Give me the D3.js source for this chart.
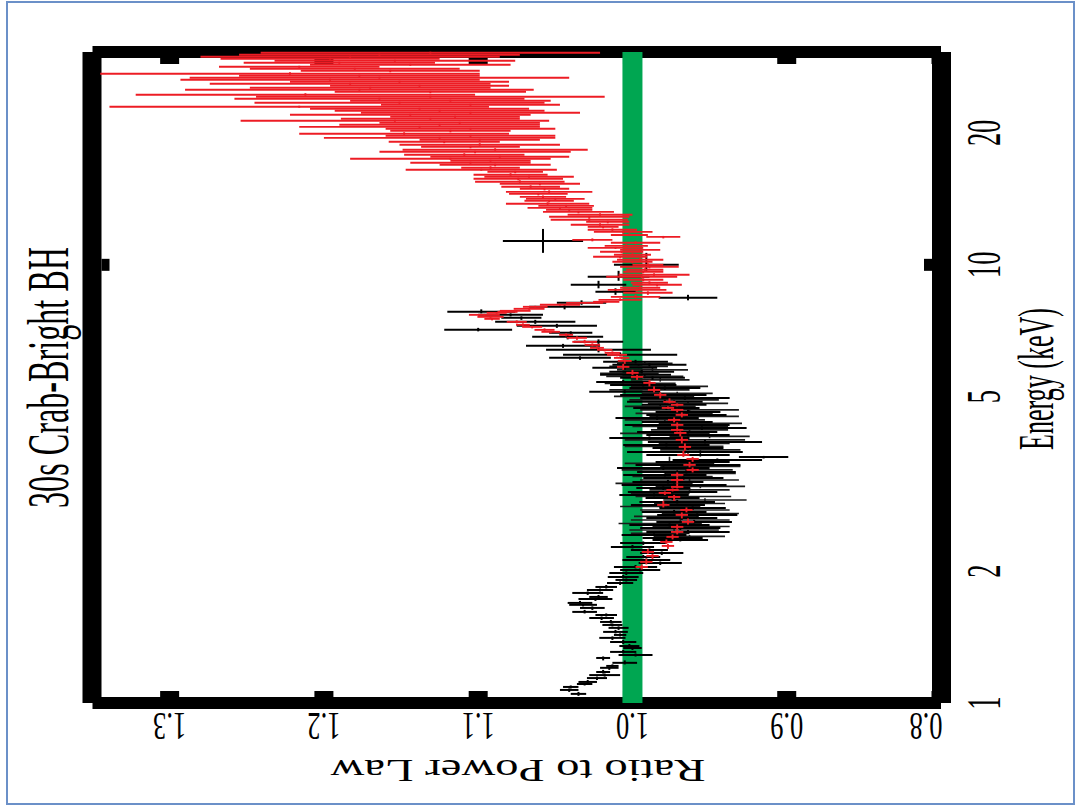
<!DOCTYPE html>
<html>
<head>
<meta charset="utf-8">
<script src="https://cdn.jsdelivr.net/npm/d3@7"></script>
<style>
  body { margin: 0; background: #fff; }
  text { font-family: "Liberation Serif", "Times New Roman", serif; fill: #000; }
</style>
</head>
<body>
<svg id="chart" width="1080" height="807"></svg>
<script>
// ---------------- data ----------------
const energyLabels = [1, 2, 5, 10, 20];
const energyMajor = [10];
const ratioTicks = [0.8, 0.9, 1.0, 1.1, 1.2, 1.3];

// black points: energy (keV), ratio, ratio error
const blackE = [1.049,1.071,1.088,1.105,1.117,1.140,1.158,1.177,1.203,1.215,1.235,1.267,1.287,1.308,1.335,1.349,1.378,1.408,1.430,1.453,1.484,1.507,1.531,1.563,1.588,1.614,1.648,1.675,1.692,1.728,1.746,1.783,1.811,1.840,1.879,1.909,1.939,1.981,2.012,2.044,2.087,2.121,2.155,2.200,2.235,2.271,2.319,
  2.356,2.381,2.419,2.457,2.509,2.549,2.590,2.645,2.687,2.730,2.787,2.832,2.877,2.938,2.985,3.032,3.096,3.146,3.196,3.263,3.315,3.368,3.440,3.495,3.550,3.587,3.644,3.683,3.741,3.821,3.882,3.944,4.027,4.091,4.156,4.244,4.312,4.381,4.474,4.545,4.617,4.715,4.791,4.867,4.970,5.049,5.130,5.238,5.321,5.406,5.521,5.609,5.698,5.819,5.912,6.006,
  6.133,6.231,6.396,6.532,6.671,6.849,6.995,7.105,7.256,7.411,7.568,7.689,7.811,8.020,8.190,8.408,8.678,9.003,9.390,10.00,11.34];
const blackR = [1.035,1.041,1.040,1.031,1.029,1.023,1.018,1.019,1.015,1.013,1.005,1.019,0.998,1.006,1.000,1.002,1.006,1.013,1.008,1.011,1.009,1.013,1.014,1.020,1.017,1.031,1.026,1.032,1.034,1.024,1.022,1.029,1.021,1.017,1.008,1.004,1.006,1.004,0.995,0.998,0.982,0.991,0.993,0.981,0.989,1.000,0.993,
  0.969,0.974,0.986,0.964,0.969,0.976,0.960,0.968,0.958,0.973,0.961,0.977,0.971,0.974,0.986,0.974,0.980,0.973,0.977,0.967,0.979,0.965,0.980,0.964,0.961,0.945,0.915,0.964,0.966,0.964,0.978,0.953,0.989,0.964,0.971,0.955,0.971,0.971,0.984,0.965,0.964,0.978,0.973,0.979,0.966,0.980,1.005,0.979,0.993,1.006,0.987,0.998,0.994,1.005,0.989,0.998,
  1.034,1.008,1.022,1.045,1.022,1.042,1.040,1.100,1.049,1.063,1.072,1.079,1.098,1.044,1.033,0.964,1.011,1.022,1.009,0.991,1.058];
const blackErr = [0.005,0.006,0.005,0.005,0.006,0.0065,0.010,0.0045,0.006,0.004,0.008,0.0045,0.011,0.0085,0.006,0.0065,0.0085,0.0085,0.004,0.008,0.0065,0.0065,0.007,0.008,0.007,0.008,0.008,0.009,0.008,0.011,0.006,0.010,0.0085,0.007,0.0085,0.007,0.010,0.011,0.013,0.014,0.014,0.0155,0.011,0.014,0.012,0.014,0.015,
  0.018,0.0195,0.021,0.027,0.026,0.026,0.0245,0.023,0.026,0.021,0.0215,0.024,0.0245,0.0175,0.0225,0.029,0.0175,0.034,0.023,0.026,0.027,0.032,0.030,0.034,0.024,0.029,0.016,0.027,0.0375,0.023,0.028,0.037,0.026,0.027,0.026,0.029,0.034,0.023,0.027,0.026,0.021,0.0215,0.021,0.0245,0.029,0.028,0.023,0.023,0.0215,0.0175,0.021,0.023,0.021,0.021,0.024,0.021,
  0.020,0.037,0.034,0.024,0.016,0.023,0.014,0.022,0.026,0.026,0.013,0.021,0.022,0.023,0.016,0.019,0.013,0.018,0.020,0.021,0.026];

// second black detector (the in-between rows of the dense 2-6 keV band)
const black2E = [2.400,2.438,2.483,2.529,2.569,2.617,2.666,2.708,2.758,2.809,2.854,2.907,2.961,3.008,3.064,3.121,3.171,3.229,3.289,3.341,3.404,3.467,3.522,3.781,3.851,3.913,3.985,4.059,4.124,4.200,4.278,4.346,4.427,4.509,4.581,4.666,4.753,4.828,4.918,5.009,5.089,5.183,5.279,5.363,5.463,5.565,5.653,5.758,5.865,5.958];
const black2R = [0.963,0.982,0.973,0.962,0.982,0.969,0.978,0.956,0.966,0.982,0.963,0.953,0.967,0.982,0.963,0.956,0.986,0.963,0.974,0.956,0.971,0.956,0.976,0.956,0.973,0.960,0.966,0.950,0.979,0.963,0.969,0.956,0.979,0.960,0.973,0.963,0.982,0.964,0.973,0.986,0.971,0.989,0.976,0.995,0.982,0.992,1.002,0.987,0.996,0.992];
const black2Err = [0.023,0.019,0.029,0.025,0.027,0.032,0.021,0.025,0.029,0.026,0.023,0.027,0.031,0.019,0.026,0.029,0.025,0.032,0.026,0.023,0.036,0.026,0.029,0.026,0.032,0.023,0.039,0.026,0.029,0.025,0.031,0.027,0.026,0.029,0.025,0.032,0.023,0.026,0.029,0.026,0.023,0.026,0.025,0.023,0.019,0.025,0.019,0.023,0.019,0.018];

// red points: energy (keV), ratio, ratio error
const redE = [2.044,2.099,2.166,2.212,2.283,2.331,2.394,2.457,2.523,2.590,2.687,2.758,2.832,2.953,3.016,3.064,3.113,3.229,3.315,3.404,3.495,3.606,3.683,3.841,3.985,4.134,4.200,4.312,4.427,4.545,4.666,4.715,4.791,4.867,5.049,5.183,5.377,5.550,5.668,5.850,
  6.037,6.133,6.231,6.296,6.396,6.464,6.567,6.671,6.813,6.922,7.032,7.105,7.218,7.295,7.411,7.528,7.608,7.689,7.770,7.811,7.852,7.936,8.020,8.105,8.190,8.233,8.320,8.452,8.632,8.769,8.862,9.003,9.098,9.243,9.390,9.490,9.640,9.741,9.896,10.00,
  10.16,10.27,10.43,10.54,10.71,10.82,10.93,11.05,11.23,11.40,11.58,11.70,11.89,12.02,12.21,12.34,12.54,12.67,12.87,13.01,13.21,13.35,13.49,13.63,13.78,14.00,14.14,14.29,14.52,14.67,14.91,15.07,15.31,15.47,15.72,15.89,16.06,16.31,16.48,16.65,
  16.92,17.10,17.28,17.46,17.65,17.83,18.12,18.31,18.60,18.80,19.10,19.29,19.49,19.70,19.91,20.23,20.44,20.65,20.87,21.09,21.32,21.54,21.77,22.00,22.23,22.47,22.71,22.95,23.19,23.44,23.69,23.94,24.19,24.45,24.83,25.09,25.36,25.62,25.90,26.17,
  26.45,26.73,27.01,27.30,27.73,28.02,28.31,28.61,28.92,29.22,29.53,29.85,30.16,30.48];
const redR = [0.994,0.991,0.987,0.990,0.977,0.978,0.974,0.971,0.971,0.964,0.968,0.965,0.980,0.973,0.979,0.974,0.971,0.971,0.971,0.961,0.963,0.961,0.967,0.966,0.968,0.969,0.971,0.971,0.973,0.968,0.971,0.977,0.971,0.976,0.982,0.986,0.989,0.997,1.000,1.006,
  1.005,1.007,1.010,1.013,1.018,1.023,1.026,1.031,1.036,1.043,1.053,1.057,1.065,1.071,1.075,1.091,1.092,1.096,1.088,1.081,1.076,1.067,1.063,1.047,1.031,1.017,1.008,0.998,0.990,0.997,0.995,0.984,0.989,0.993,0.994,0.986,0.993,0.992,0.989,0.990,
  1.000,0.995,1.008,1.000,1.007,0.995,1.011,1.004,0.998,1.026,0.980,1.002,1.006,1.013,1.019,1.021,1.016,1.028,1.028,1.021,1.035,1.041,1.047,1.043,1.055,1.054,1.050,1.058,1.061,1.054,1.057,1.066,1.060,1.073,1.074,1.067,1.079,1.076,1.098,1.092,
  1.089,1.105,1.092,1.118,1.086,1.109,1.102,1.089,1.105,1.099,1.122,1.099,1.125,1.105,1.148,1.118,1.105,1.138,1.125,1.112,1.154,1.131,1.115,1.144,1.105,1.125,1.138,1.216,1.105,1.151,1.118,1.164,1.131,1.212,1.131,1.177,1.170,1.138,1.183,1.151,
  1.196,1.164,1.177,1.222,1.157,1.180,1.216,1.144,1.190,1.154,1.196,1.183,1.164,1.131];
const redErr = [0.004,0.004,0.004,0.004,0.004,0.004,0.004,0.004,0.004,0.004,0.004,0.004,0.004,0.004,0.004,0.004,0.004,0.004,0.004,0.004,0.004,0.004,0.004,0.004,0.004,0.004,0.004,0.004,0.004,0.004,0.004,0.004,0.004,0.004,0.004,0.004,0.004,0.004,0.004,0.004,
  0.0045,0.005,0.0065,0.005,0.005,0.0045,0.005,0.008,0.0065,0.0045,0.006,0.0065,0.0065,0.0045,0.0065,0.005,0.0085,0.010,0.0065,0.0065,0.010,0.010,0.008,0.013,0.012,0.0085,0.014,0.016,0.016,0.019,0.013,0.016,0.012,0.013,0.023,0.023,0.013,0.012,0.019,0.010,
  0.013,0.015,0.0175,0.012,0.014,0.013,0.018,0.014,0.016,0.013,0.011,0.012,0.019,0.016,0.010,0.019,0.014,0.025,0.026,0.021,0.023,0.015,0.021,0.018,0.027,0.016,0.019,0.015,0.019,0.028,0.016,0.019,0.026,0.029,0.029,0.029,0.024,0.018,0.049,0.019,
  0.036,0.039,0.026,0.065,0.045,0.039,0.062,0.060,0.032,0.052,0.036,0.039,0.075,0.055,0.068,0.039,0.055,0.078,0.065,0.052,0.100,0.058,0.042,0.078,0.071,0.068,0.071,0.123,0.058,0.094,0.065,0.094,0.113,0.110,0.062,0.113,0.078,0.058,0.091,0.071,
  0.097,0.123,0.078,0.123,0.058,0.068,0.052,0.065,0.062,0.078,0.071,0.097,0.091,0.110];

// ---------------- scales ----------------
const x = d3.scaleLinear().domain([0.8, 1.35]).range([941, 92.5]);   // ratio runs right -> left
const y = d3.scaleLog().domain([1, 30.6]).range([703, 52]);          // energy runs bottom -> top

const svg = d3.select("#chart");

// slide border
svg.append("rect")
    .attr("x", 7).attr("y", 2)
    .attr("width", 1067).attr("height", 802)
    .attr("fill", "none")
    .attr("stroke", "#6b90c8")
    .attr("stroke-width", 2);

// ---------------- thick frame ----------------
const xl = x(1.35), xr = x(0.8), yt = y(30.6), yb = y(1);
const frame = svg.append("g").attr("fill", "#000");

frame.append("rect").attr("x", xl).attr("y", yt - 6).attr("width", xr - xl).attr("height", 12);   // top
frame.append("rect").attr("x", xl).attr("y", yb - 6).attr("width", xr - xl).attr("height", 12);   // bottom
frame.append("rect").attr("x", xl - 10).attr("y", yt).attr("width", 19).attr("height", yb - yt);  // left
frame.append("rect").attr("x", xr - 9).attr("y", yt).attr("width", 19).attr("height", yb - yt);   // right

// ratio ticks on top and bottom bars
ratioTicks.forEach(v => {
    frame.append("rect").attr("x", x(v) - 9.5).attr("y", yt + 6).attr("width", 19).attr("height", 6);
    frame.append("rect").attr("x", x(v) - 9.5).attr("y", yb - 12).attr("width", 19).attr("height", 6);
});

// energy ticks on left and right bars
energyMajor.forEach(v => {
    frame.append("rect").attr("x", xl + 9).attr("y", y(v) - 6).attr("width", 8).attr("height", 12);
    frame.append("rect").attr("x", xr - 17).attr("y", y(v) - 6).attr("width", 8).attr("height", 12);
});

// green reference band at ratio = 1
svg.append("rect")
    .attr("x", x(1.0) - 10).attr("y", yt)
    .attr("width", 20).attr("height", yb - yt)
    .attr("fill", "#00a651");

// ---------------- error bars ----------------
function drawSeries(E, R, Err, color, width) {
    const g = svg.append("g").attr("stroke", color).attr("stroke-width", width);
    E.forEach((e, i) => {
        // bin edges half way (in log) to the neighbours
        const lo = i > 0 ? Math.sqrt(E[i - 1] * e) : e * e / Math.sqrt(e * E[i + 1]);
        const hi = i < E.length - 1 ? Math.sqrt(E[i + 1] * e) : e * e / Math.sqrt(e * E[i - 1]);
        g.append("line")
            .attr("x1", x(R[i] - Err[i])).attr("x2", x(R[i] + Err[i]))
            .attr("y1", y(e)).attr("y2", y(e));
        g.append("line")
            .attr("x1", x(R[i])).attr("x2", x(R[i]))
            .attr("y1", y(lo)).attr("y2", y(hi));
    });
}

drawSeries(black2E, black2R, black2Err, "#1a1a1a", 1.6);
drawSeries(blackE, blackR, blackErr, "#000", 2);
drawSeries(redE, redR, redErr, "#ed1c24", 1.9);

// ---------------- labels ----------------
// ratio tick labels, upside down under the frame
ratioTicks.forEach(v => {
    const px = v === 0.8 ? x(v) - 15 : x(v);
    svg.append("text")
        .attr("transform", "translate(" + px + ",713) rotate(180)")
        .attr("text-anchor", "middle")
        .attr("font-size", 40)
        .attr("textLength", 33)
        .attr("lengthAdjust", "spacingAndGlyphs")
        .text(v.toFixed(1));
});

// energy tick labels, rotated on the right
energyLabels.forEach(v => {
    svg.append("text")
        .attr("transform", "translate(1000," + y(v) + ") rotate(-90) scale(0.55,1)")
        .attr("text-anchor", "middle")
        .attr("font-size", 48)
        .text(v);
});

svg.append("text")
    .attr("transform", "translate(518,760) rotate(180)")
    .attr("text-anchor", "middle")
    .attr("font-size", 32)
    .attr("textLength", 375)
    .attr("lengthAdjust", "spacingAndGlyphs")
    .text("Ratio to Power Law");

svg.append("text")
    .attr("transform", "translate(1053,379) rotate(-90)")
    .attr("text-anchor", "middle")
    .attr("font-size", 50)
    .attr("textLength", 142)
    .attr("lengthAdjust", "spacingAndGlyphs")
    .text("Energy (keV)");

svg.append("text")
    .attr("transform", "translate(68,377.5) rotate(-90)")
    .attr("text-anchor", "middle")
    .attr("font-size", 60)
    .attr("textLength", 261)
    .attr("lengthAdjust", "spacingAndGlyphs")
    .text("30s Crab-Bright BH");
</script>
</body>
</html>
